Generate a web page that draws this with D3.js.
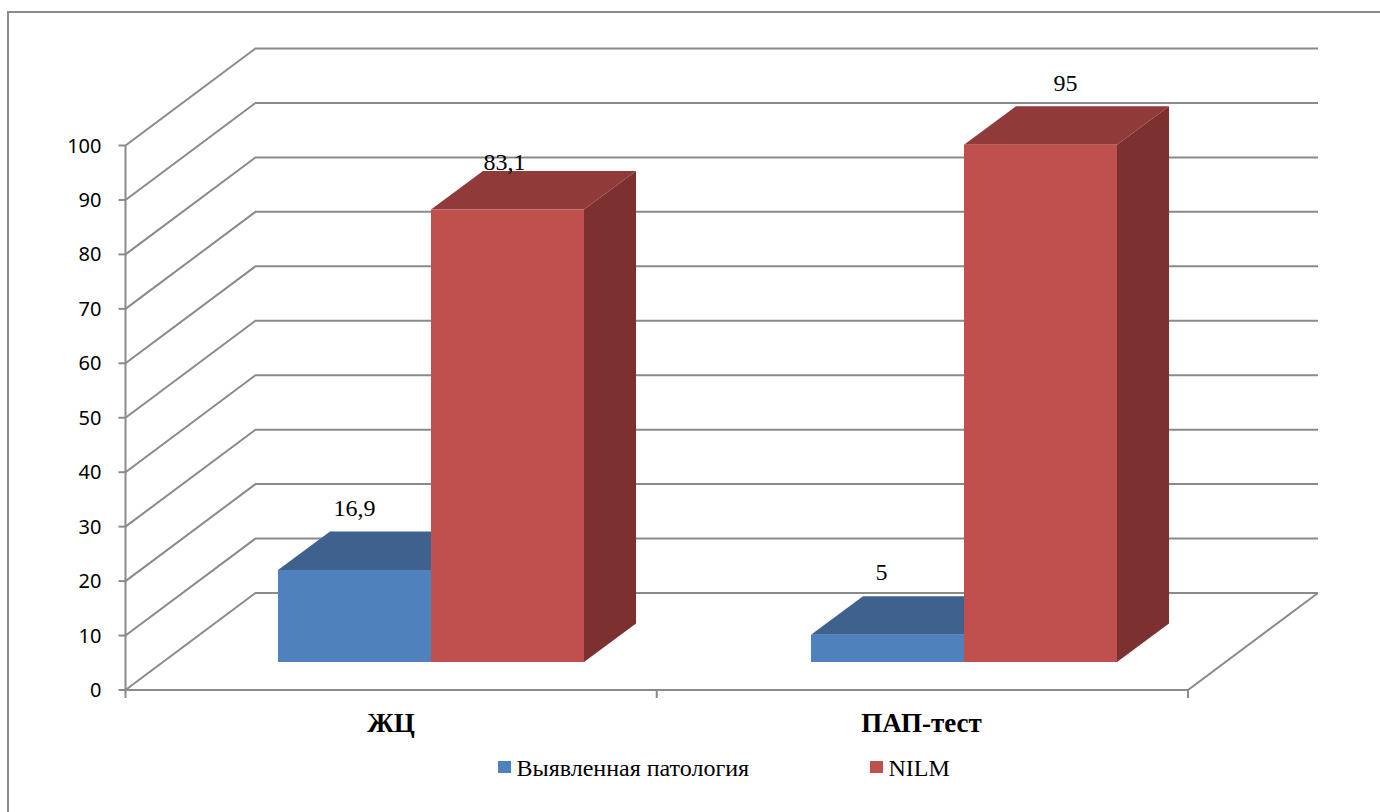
<!DOCTYPE html>
<html>
<head>
<meta charset="utf-8">
<script src="https://cdn.jsdelivr.net/npm/d3@7/dist/d3.min.js"></script>
<style>
  html, body { margin: 0; padding: 0; background: #fff; }
  svg { display: block; }
</style>
</head>
<body>
<script>
// Results of two cervical screening methods, drawn as a pseudo-3D column chart.
const categories = ["ЖЦ", "ПАП-тест"];
const seriesNames = ["Выявленная патология", "NILM"];
const pathology = [16.9, 5];
const nilm = [83.1, 95];
const pathologyLabels = ["16,9", "5"];
const nilmLabels = ["83,1", "95"];
const yTicks = [0, 10, 20, 30, 40, 50, 60, 70, 80, 90, 100];

const W = 1380, H = 812;
const wallDx = 130, wallDy = -97;      // back wall offset from the front plane
const barDx = 52, barDy = -38.5;       // column depth offset
const barBase = 662;                   // front edge of the columns on the floor

const svg = d3.select("body").append("svg").attr("width", W).attr("height", H);

const y = d3.scaleLinear().domain([0, 100]).range([690, 145.5]);
const xAxis = d3.scaleBand().domain(categories).range([125.5, 1188]);
const xGroup = d3.scaleBand().domain(categories).range([278, 1344]);
const xSeries = d3.scaleBand().domain(seriesNames).range([0, 306]);

const gridColor = "#8a8a8a";
const serif = "'Liberation Serif', serif";

// Outer frame: only the top and left borders are visible.
svg.append("path")
  .attr("d", "M8,812V12H1380")
  .attr("fill", "none").attr("stroke", "#8c8c8c").attr("stroke-width", 2);

// Side wall and back wall gridlines.
const line = d3.line();
const xStart = xAxis.range()[0], xEnd = xAxis.range()[1];
svg.append("g").selectAll("path").data(yTicks).join("path")
  .attr("d", t => line([
    [xStart, y(t)],
    [xStart + wallDx, y(t) + wallDy],
    [xEnd + wallDx, y(t) + wallDy]
  ]))
  .attr("fill", "none").attr("stroke", gridColor).attr("stroke-width", 2);

// Floor edges on the front and right.
svg.append("path")
  .attr("d", line([
    [xStart, y(0)], [xEnd, y(0)], [xEnd + wallDx, y(0) + wallDy]
  ]))
  .attr("fill", "none").attr("stroke", gridColor).attr("stroke-width", 2);

// Value axis with its ticks and labels.
svg.append("line")
  .attr("x1", xStart).attr("x2", xStart).attr("y1", y(100)).attr("y2", y(0))
  .attr("stroke", gridColor).attr("stroke-width", 2);
const yAxisG = svg.append("g").selectAll("g").data(yTicks).join("g");
yAxisG.append("line")
  .attr("x1", xStart - 7).attr("x2", xStart).attr("y1", d => y(d)).attr("y2", d => y(d))
  .attr("stroke", gridColor).attr("stroke-width", 2);
yAxisG.append("text")
  .attr("x", xStart - 24).attr("y", d => y(d) + 7)
  .attr("text-anchor", "end")
  .attr("font-family", "'Noto Sans', sans-serif").attr("font-size", 20)
  .attr("fill", "#000").text(d => d);

// Category ticks and labels.
const catTicks = [xStart, xAxis(categories[1]), xEnd];
svg.append("g").selectAll("line").data(catTicks).join("line")
  .attr("x1", d => d).attr("x2", d => d).attr("y1", y(0)).attr("y2", y(0) + 8)
  .attr("stroke", gridColor).attr("stroke-width", 2);
svg.append("g").selectAll("text").data(categories).join("text")
  .attr("x", (d, i) => [391, 921.5][i]).attr("y", 732)
  .attr("text-anchor", "middle")
  .attr("font-family", serif).attr("font-weight", "bold").attr("font-size", 27)
  .attr("fill", "#000").text(d => d);

// Columns: blue first so the red column's face sits on top.
const palette = {
  [seriesNames[0]]: { front: "#4f81bd", top: "#3e618e", side: "#335075" },
  [seriesNames[1]]: { front: "#c0504d", top: "#903a39", side: "#7c302f" }
};
const heightOf = d3.scaleLinear().domain([0, 100]).range([0, y(0) - y(100)]);
const columns = [];
seriesNames.forEach((s, si) => {
  const values = si === 0 ? pathology : nilm;
  categories.forEach((c, ci) => columns.push({ series: s, cat: c, value: values[ci] }));
});

const colG = svg.append("g").selectAll("g").data(columns).join("g");
colG.each(function(d) {
  const g = d3.select(this);
  const x0 = xGroup(d.cat) + xSeries(d.series);
  const x1 = x0 + xSeries.bandwidth();
  const yTop = barBase - heightOf(d.value);
  const col = palette[d.series];
  g.append("path").attr("fill", col.side).attr("d", line([
    [x1, yTop], [x1 + barDx, yTop + barDy], [x1 + barDx, barBase + barDy], [x1, barBase]
  ]) + "Z");
  g.append("path").attr("fill", col.top).attr("d", line([
    [x0, yTop], [x0 + barDx, yTop + barDy], [x1 + barDx, yTop + barDy], [x1, yTop]
  ]) + "Z");
  g.append("rect").attr("fill", col.front)
    .attr("x", x0).attr("y", yTop).attr("width", x1 - x0).attr("height", barBase - yTop);
});

// Value labels, each nudged by hand as in the original layout.
const labelNudges = [[0, -54], [-6, -55], [-3, -39.5], [25, -53.5]];
const labelTexts = pathologyLabels.concat(nilmLabels);
svg.append("g").selectAll("text").data(columns).join("text")
  .attr("x", (d, i) => xGroup(d.cat) + xSeries(d.series) + xSeries.bandwidth() / 2 + labelNudges[i][0])
  .attr("y", (d, i) => barBase - heightOf(d.value) + labelNudges[i][1])
  .attr("text-anchor", "middle")
  .attr("font-family", serif).attr("font-size", 24)
  .attr("fill", "#000").text((d, i) => labelTexts[i]);

// Legend.
const legendX = [498, 870];
const legend = svg.append("g").selectAll("g").data(seriesNames).join("g");
legend.append("rect")
  .attr("x", (d, i) => legendX[i]).attr("y", 761).attr("width", 13).attr("height", 12)
  .attr("fill", d => palette[d].front);
legend.append("text")
  .attr("x", (d, i) => legendX[i] + 18.5).attr("y", 776)
  .attr("font-family", serif).attr("font-size", 24)
  .attr("fill", "#000").text(d => d);
</script>
</body>
</html>
